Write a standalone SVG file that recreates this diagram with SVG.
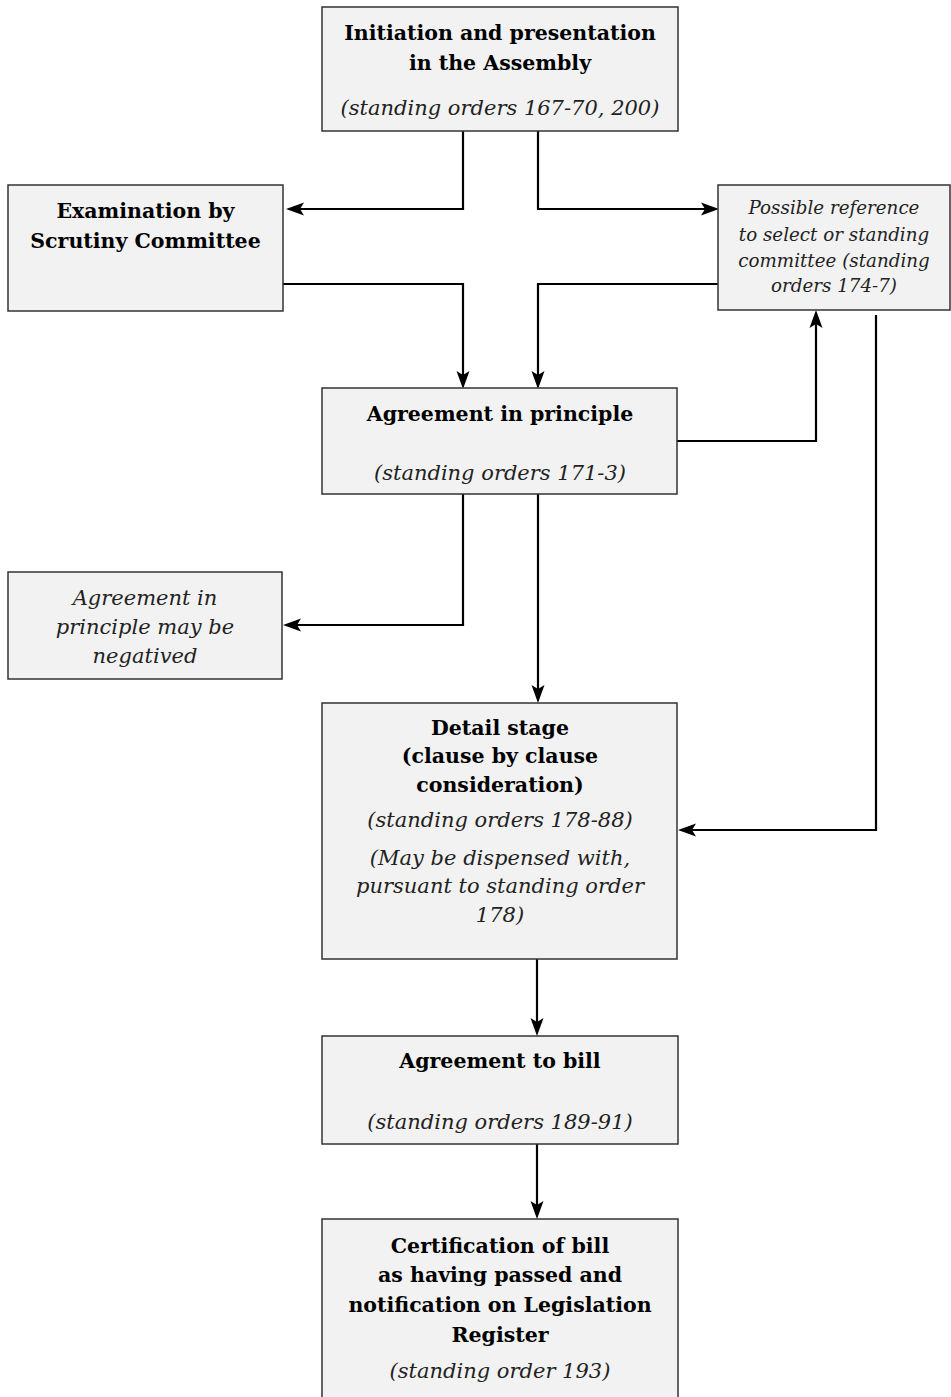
<svg xmlns="http://www.w3.org/2000/svg" width="951" height="1397" viewBox="0 0 951 1397">
<style>
.box{fill:#f2f2f2;stroke:#333;stroke-width:1.5}
.b{font-family:"DejaVu Serif",serif;font-weight:bold;font-size:20.5px;fill:#000}
.i{font-family:"DejaVu Serif",serif;font-style:italic;font-size:21px;fill:#222}
.s{font-size:18.3px}
.c{fill:none;stroke:#000;stroke-width:2.2}
.ah{fill:#000}
</style>
<rect width="951" height="1397" fill="#fff"/>
<g id="connectors">
<path class="c" d="M463,131 V209 H300"/>
<polygon class="ah" points="286,209 304,202.5 300,209 304,215.5"/>
<path class="c" d="M538,131 V209 H705"/>
<polygon class="ah" points="719,209 701,202.5 705,209 701,215.5"/>
<path class="c" d="M283,284 H463 V375"/>
<polygon class="ah" points="463,389 456.5,371 463,375 469.5,371"/>
<path class="c" d="M718,284 H538 V375"/>
<polygon class="ah" points="538,389 531.5,371 538,375 544.5,371"/>
<path class="c" d="M677,441 H816 V324"/>
<polygon class="ah" points="816,310 809.5,328 816,324 822.5,328"/>
<path class="c" d="M463,494 V625 H297"/>
<polygon class="ah" points="283,625 301,618.5 297,625 301,631.5"/>
<path class="c" d="M538,494 V689"/>
<polygon class="ah" points="538,703 531.5,685 538,689 544.5,685"/>
<path class="c" d="M876,315 V830 H692"/>
<polygon class="ah" points="678,830 696,823.5 692,830 696,836.5"/>
<path class="c" d="M537,959 V1022"/>
<polygon class="ah" points="537,1036 530.5,1018 537,1022 543.5,1018"/>
<path class="c" d="M537,1144 V1205"/>
<polygon class="ah" points="537,1219 530.5,1201 537,1205 543.5,1201"/>
</g>
<g text-anchor="middle">
<g id="initiation">
<rect class="box" x="322" y="7" width="356" height="124"/>
<text class="b" x="500" y="40">Initiation and presentation</text>
<text class="b" x="500" y="70">in the Assembly</text>
<text class="i" x="500" y="115">(standing orders 167-70, 200)</text>
</g>
<g id="scrutiny">
<rect class="box" x="8" y="185" width="275" height="126"/>
<text class="b" x="145.5" y="218">Examination by</text>
<text class="b" x="145.5" y="248">Scrutiny Committee</text>
</g>
<g id="reference">
<rect class="box" x="718" y="185" width="232" height="125"/>
<text class="i s" x="834" y="214">Possible reference</text>
<text class="i s" x="834" y="241">to select or standing</text>
<text class="i s" x="834" y="267">committee (standing</text>
<text class="i s" x="834" y="292">orders 174-7)</text>
</g>
<g id="principle">
<rect class="box" x="322" y="388" width="355" height="106"/>
<text class="b" x="500" y="421">Agreement in principle</text>
<text class="i" x="500" y="480">(standing orders 171-3)</text>
</g>
<g id="negatived">
<rect class="box" x="8" y="572" width="274" height="107"/>
<text class="i" x="145" y="605">Agreement in</text>
<text class="i" x="145" y="634">principle may be</text>
<text class="i" x="145" y="663">negatived</text>
</g>
<g id="detail">
<rect class="box" x="322" y="703" width="355" height="256"/>
<text class="b" x="500" y="735">Detail stage</text>
<text class="b" x="500" y="763">(clause by clause</text>
<text class="b" x="500" y="792">consideration)</text>
<text class="i" x="500" y="827">(standing orders 178-88)</text>
<text class="i" x="500" y="865">(May be dispensed with,</text>
<text class="i" x="500" y="893">pursuant to standing order</text>
<text class="i" x="500" y="922">178)</text>
</g>
<g id="bill">
<rect class="box" x="322" y="1036" width="356" height="108"/>
<text class="b" x="500" y="1068">Agreement to bill</text>
<text class="i" x="500" y="1129">(standing orders 189-91)</text>
</g>
<g id="certification">
<rect class="box" x="322" y="1219" width="356" height="190"/>
<text class="b" x="500" y="1253">Certification of bill</text>
<text class="b" x="500" y="1282">as having passed and</text>
<text class="b" x="500" y="1312">notification on Legislation</text>
<text class="b" x="500" y="1342">Register</text>
<text class="i" x="500" y="1378">(standing order 193)</text>
</g>
</g>
</svg>
